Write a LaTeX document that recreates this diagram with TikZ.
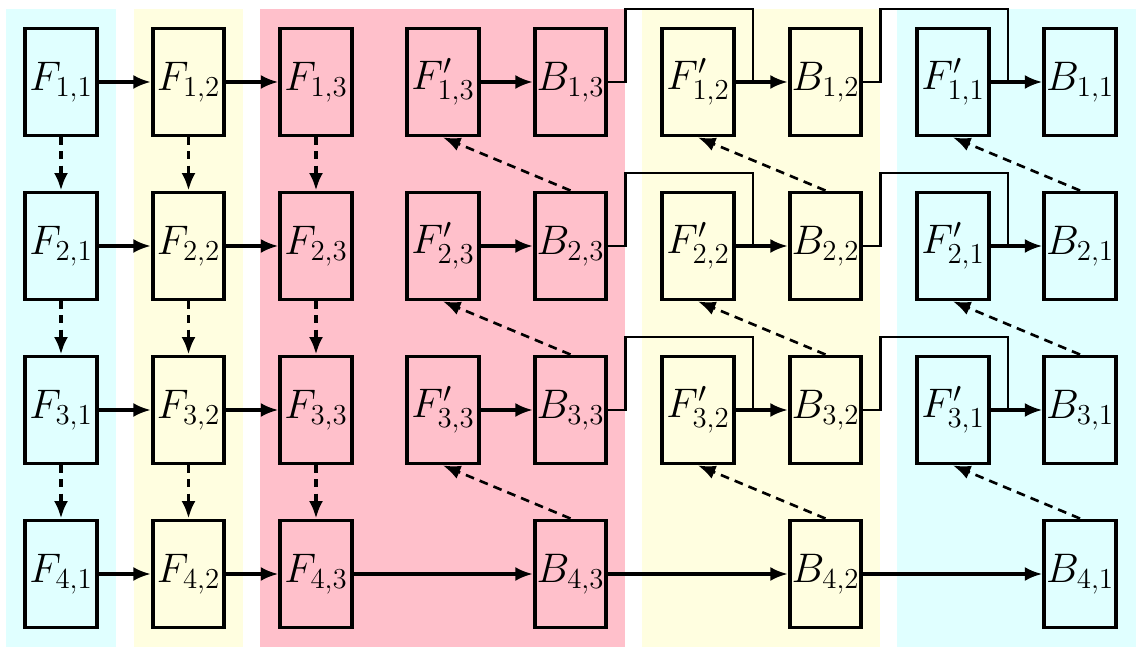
\RequirePackage{fix-cm}
\documentclass[tikz,border=0pt]{standalone}
\usetikzlibrary{arrows.meta,calc}

\definecolor{bandcyan}{RGB}{224,255,255}
\definecolor{bandyellow}{RGB}{255,254,224}
\definecolor{bandpink}{RGB}{255,192,203}

\tikzset{
  blk/.style={draw, line width=2.2pt, minimum width=1.43cm, minimum height=2.14cm,
    inner sep=0pt, font=\fontsize{23.5}{28}\selectfont},
  flow/.style={->, line width=1.8pt},
  bwd/.style={line width=1.4pt},
  dep/.style={->, line width=2.2pt, dash pattern=on 4.5pt off 3.5pt},
  grad/.style={->, line width=1.5pt, dash pattern=on 5pt off 3.5pt}
}

\begin{document}
\begin{tikzpicture}[>={Latex[length=3.5mm,width=2.8mm]}]
  \useasboundingbox (0,0) rectangle (22.84,13.08);

  % Bands
  \fill[bandcyan] (0.12,0.15) rectangle (2.31,12.90);
  \fill[bandyellow] (2.67,0.15) rectangle (4.86,12.90);
  \fill[bandpink] (5.20,0.15) rectangle (12.50,12.90);
  \fill[bandyellow] (12.83,0.15) rectangle (17.60,12.90);
  \fill[bandcyan] (17.93,0.15) rectangle (22.72,12.90);

  % Row 1
  \node[blk] (f11) at (1.22,11.44) {$F_{1,1}$};
  \node[blk] (f12) at (3.77,11.44) {$F_{1,2}$};
  \node[blk] (f13) at (6.32,11.44) {$F_{1,3}$};
  \node[blk] (fp13) at (8.86,11.44) {$F'_{1,3}$};
  \node[blk] (b13) at (11.41,11.44) {$B_{1,3}$};
  \node[blk] (fp12) at (13.96,11.44) {$F'_{1,2}$};
  \node[blk] (b12) at (16.51,11.44) {$B_{1,2}$};
  \node[blk] (fp11) at (19.06,11.44) {$F'_{1,1}$};
  \node[blk] (b11) at (21.60,11.44) {$B_{1,1}$};

  % Row 2
  \node[blk] (f21) at (1.22,8.16) {$F_{2,1}$};
  \node[blk] (f22) at (3.77,8.16) {$F_{2,2}$};
  \node[blk] (f23) at (6.32,8.16) {$F_{2,3}$};
  \node[blk] (fp23) at (8.86,8.16) {$F'_{2,3}$};
  \node[blk] (b23) at (11.41,8.16) {$B_{2,3}$};
  \node[blk] (fp22) at (13.96,8.16) {$F'_{2,2}$};
  \node[blk] (b22) at (16.51,8.16) {$B_{2,2}$};
  \node[blk] (fp21) at (19.06,8.16) {$F'_{2,1}$};
  \node[blk] (b21) at (21.60,8.16) {$B_{2,1}$};

  % Row 3
  \node[blk] (f31) at (1.22,4.88) {$F_{3,1}$};
  \node[blk] (f32) at (3.77,4.88) {$F_{3,2}$};
  \node[blk] (f33) at (6.32,4.88) {$F_{3,3}$};
  \node[blk] (fp33) at (8.86,4.88) {$F'_{3,3}$};
  \node[blk] (b33) at (11.41,4.88) {$B_{3,3}$};
  \node[blk] (fp32) at (13.96,4.88) {$F'_{3,2}$};
  \node[blk] (b32) at (16.51,4.88) {$B_{3,2}$};
  \node[blk] (fp31) at (19.06,4.88) {$F'_{3,1}$};
  \node[blk] (b31) at (21.60,4.88) {$B_{3,1}$};

  % Row 4
  \node[blk] (f41) at (1.22,1.60) {$F_{4,1}$};
  \node[blk] (f42) at (3.77,1.60) {$F_{4,2}$};
  \node[blk] (f43) at (6.32,1.60) {$F_{4,3}$};
  \node[blk] (b43) at (11.41,1.60) {$B_{4,3}$};
  \node[blk] (b42) at (16.51,1.60) {$B_{4,2}$};
  \node[blk] (b41) at (21.60,1.60) {$B_{4,1}$};

  % Forward arrows
  \draw[flow] (f11) -- (f12);
  \draw[flow] (f12) -- (f13);
  \draw[flow] (f21) -- (f22);
  \draw[flow] (f22) -- (f23);
  \draw[flow] (f31) -- (f32);
  \draw[flow] (f32) -- (f33);
  \draw[flow] (f41) -- (f42);
  \draw[flow] (f42) -- (f43);
  \draw[flow] (f43) -- (b43);
  \draw[flow] (b43) -- (b42);
  \draw[flow] (b42) -- (b41);

  % Recompute into backward
  \draw[flow] (fp13) -- (b13);
  \draw[flow] (fp12) -- (b12);
  \draw[flow] (fp11) -- (b11);
  \draw[flow] (fp23) -- (b23);
  \draw[flow] (fp22) -- (b22);
  \draw[flow] (fp21) -- (b21);
  \draw[flow] (fp33) -- (b33);
  \draw[flow] (fp32) -- (b32);
  \draw[flow] (fp31) -- (b31);

  % Backward hand-over (over the top)
  \draw[bwd] (b13.east) -- ++(0.35,0) |- ($(fp12.north east)+(0.35,0.35)$) -- ($(fp12.east)+(0.35,0)$);
  \draw[bwd] (b12.east) -- ++(0.35,0) |- ($(fp11.north east)+(0.35,0.35)$) -- ($(fp11.east)+(0.35,0)$);
  \draw[bwd] (b23.east) -- ++(0.35,0) |- ($(fp22.north east)+(0.35,0.35)$) -- ($(fp22.east)+(0.35,0)$);
  \draw[bwd] (b22.east) -- ++(0.35,0) |- ($(fp21.north east)+(0.35,0.35)$) -- ($(fp21.east)+(0.35,0)$);
  \draw[bwd] (b33.east) -- ++(0.35,0) |- ($(fp32.north east)+(0.35,0.35)$) -- ($(fp32.east)+(0.35,0)$);
  \draw[bwd] (b32.east) -- ++(0.35,0) |- ($(fp31.north east)+(0.35,0.35)$) -- ($(fp31.east)+(0.35,0)$);

  % Vertical dependencies
  \draw[dep] (f11) -- (f21);
  \draw[dep] (f21) -- (f31);
  \draw[dep] (f31) -- (f41);
  \draw[dep] (f12) -- (f22);
  \draw[dep] (f22) -- (f32);
  \draw[dep] (f32) -- (f42);
  \draw[dep] (f13) -- (f23);
  \draw[dep] (f23) -- (f33);
  \draw[dep] (f33) -- (f43);

  % Gradients going up
  \draw[grad] (b21.north) -- (fp11.south);
  \draw[grad] (b31.north) -- (fp21.south);
  \draw[grad] (b41.north) -- (fp31.south);
  \draw[grad] (b22.north) -- (fp12.south);
  \draw[grad] (b32.north) -- (fp22.south);
  \draw[grad] (b42.north) -- (fp32.south);
  \draw[grad] (b23.north) -- (fp13.south);
  \draw[grad] (b33.north) -- (fp23.south);
  \draw[grad] (b43.north) -- (fp33.south);
\end{tikzpicture}
\end{document}
